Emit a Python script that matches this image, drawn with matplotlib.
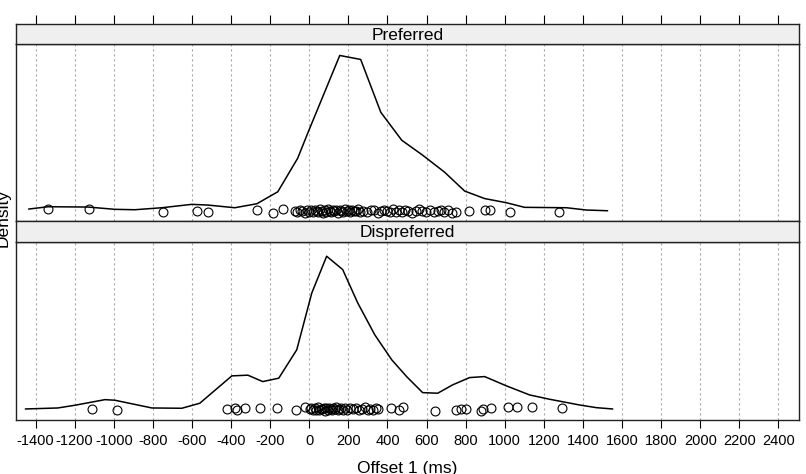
import numpy as np
import matplotlib.pyplot as plt

plt.rcParams["font.family"] = ["Liberation Sans", "DejaVu Sans"]
plt.rcParams["axes.unicode_minus"] = False

# panel names (top to bottom)
panels = ["Preferred", "Dispreferred"]

# density curves: x in ms, density in units of 1e-5
pref_x = [-1434, -1336, -1132, -994, -892, -754, -601, -519, -381, -268, -161,
          -59, -8, 156, 263, 366, 473, 580, 692, 795, 897, 1009, 1101, 1316,
          1418, 1525]
pref_dens = [3, 5.3, 5, 2.7, 2.3, 4.3, 7.7, 7, 4.3, 8.3, 20.3, 54, 79, 157, 153,
             100, 72, 57, 40, 21, 13.5, 9.3, 4.7, 4.3, 2, 1.3]

disp_x = [-1451, -1286, -1199, -1045, -994, -805, -652, -560, -396, -314, -238,
          -156, -64, 13, 89, 171, 248, 335, 422, 498, 580, 657, 733, 820, 897,
          1009, 1127, 1229, 1382, 1469, 1551]
disp_dens = [2, 3, 5.7, 11.3, 10.7, 3, 2.7, 7.7, 35, 35.7, 29.3, 32.7, 61, 117.7,
             154.3, 141, 107.7, 76, 51, 34.3, 18.3, 17.7, 26, 33.3, 34.3, 25, 16,
             11.7, 6, 3.3, 2]

# raw observations (ms) and their jitter (density units 1e-5)
pref_obs = [-1335, -1126, -749, -574, -518, -268, -186, -135,
            -74, -63, -48, -38, -22, -12, -2, 8, 18, 29, 39, 44, 54, 64, 70, 80,
            85, 95, 105, 110, 121, 126, 136, 146, 156, 162, 172, 182, 192, 202,
            208, 218, 228, 238, 248, 259, 274, 294, 315, 330, 350, 366, 381, 396,
            412, 427, 443, 458, 473, 489, 504, 524, 545, 560, 575, 596, 616, 637,
            657, 672, 688, 708, 728, 749,
            816, 898, 923, 1025, 1276]
pref_jit = [3, 2.7, 0.3, 1, 0.3, 2, -0.7, 2.7,
            1, 0, 2, 1.5, -0.5, 2.5, 0.5, 1.8, -0.3, 2.2, 1, 0.2, 2.6, 1.2, -0.6,
            1.9, 0.4, 2.8, 1.1, -0.2, 2.3, 0.7, 1.6, -0.8, 2.5, 1.3, 0.1, 2.9,
            0.8, 1.7, -0.4, 2.1, 0.6, 1.4, 2.7, -0.1, 1.2, 0.3, 2.4, 1.6, -0.5,
            0.9, 2.2, 1.1, -0.3, 2.6, 0.5, 1.8, 0.0, 2.3, 1.4, -0.7, 0.8, 2.9,
            1.5, 0.2, 2.1, -0.2, 1.0, 2.5, 0.4, 1.7, -0.6, 0.1,
            1.3, 2, 2, 0.3, -0.3]

disp_obs = [-1109, -983, -421, -380, -372, -329, -250, -166, -66, -22,
            3, 8, 18, 29, 34, 44, 49, 59, 64, 75, 80, 85, 95, 100, 110, 115, 121,
            131, 136, 146, 151, 162, 172, 182, 192, 208, 223, 238, 253, 269, 284,
            299, 310, 325, 340, 350,
            417, 459, 480, 642, 753, 778, 804, 877, 889, 932, 1017, 1063, 1139,
            1293]
disp_jit = [2, 1.3, 2, 3, 0.5, 3, 2.5, 3.3, 0.7, 3.7,
            2.1, 3.2, 0.9, 2.6, 1.4, 3.5, 0.6, 2.4, 1.8, 3.0, 0.4, 2.8, 1.2, 3.4,
            1.9, 0.7, 2.7, 1.5, 3.6, 0.9, 2.2, 3.1, 1.1, 2.5, 0.5, 3.3, 1.7, 2.9,
            0.8, 2.3, 3.5, 1.3, 2.0, 0.6, 3.2, 1.6,
            3, 1, 3.7, 0.3, 1, 2.3, 2.3, 0.3, 2, 2.7, 4.3, 3.7, 4.3, 2.7]

curves = [(pref_x, pref_dens, pref_obs, pref_jit),
          (disp_x, disp_dens, disp_obs, disp_jit)]

ticks = np.arange(-1400, 2401, 200)
xlim = (-1500, 2505)
ylim = (-9e-5, 168.5e-5)

W, H = 806, 474
fig = plt.figure(figsize=(W / 100, H / 100), dpi=100)

def box(x0, y0, x1, y1):
    # pixel box (top-left origin) -> figure fraction
    return [x0 / W, 1 - y1 / H, (x1 - x0) / W, (y1 - y0) / H]

layout = [((24, 44), (44, 221)), ((221, 242), (242, 420))]

for i, (name, (cx, cy, ox, oj)) in enumerate(zip(panels, curves)):
    (s0, s1), (p0, p1) = layout[i]
    ax = fig.add_axes(box(16, p0, 799, p1))
    for t in ticks:
        ax.axvline(t, color="#a8a8a8", lw=0.8, ls=(0, (2, 2.5)), zorder=0)
    ax.plot(cx, np.array(cy) * 1e-5, color="black", lw=1.1)
    ax.plot(ox, np.array(oj) * 1e-5, "o", mfc="none", mec="black", ms=6.4, mew=0.8)
    ax.set_xlim(xlim)
    ax.set_ylim(ylim)
    ax.set_yticks([])
    ax.set_xticks(ticks)
    if i == len(panels) - 1:
        ax.tick_params(axis="x", direction="out", length=6, width=0.8,
                       labelsize=10.5, pad=4)
    else:
        ax.tick_params(axis="x", length=0, labelbottom=False)
    for sp in ax.spines.values():
        sp.set_linewidth(1.0)
        sp.set_color("#222222")

    sax = fig.add_axes(box(16, s0, 799, s1))
    sax.set_facecolor("#efefef")
    sax.set_xlim(xlim)
    sax.set_yticks([])
    sax.set_xticks(ticks)
    if i == 0:
        sax.tick_params(axis="x", top=True, bottom=False, labeltop=False,
                        labelbottom=False, direction="out", length=6.5, width=0.8)
    else:
        sax.tick_params(axis="x", length=0, labelbottom=False)
    for sp in sax.spines.values():
        sp.set_linewidth(1.0)
        sp.set_color("#222222")
    sax.text(0.5, 0.45, name, transform=sax.transAxes, ha="center", va="center",
             fontsize=12.5)

fig.text(407.5 / W, 0.5 / H, "Offset 1 (ms)", ha="center", va="baseline",
         fontsize=12.5)
fig.text(3 / W, 1 - 218 / H, "Density", ha="center", va="center",
         rotation=90, fontsize=12.5)

fig.savefig("out.png", dpi=100)
